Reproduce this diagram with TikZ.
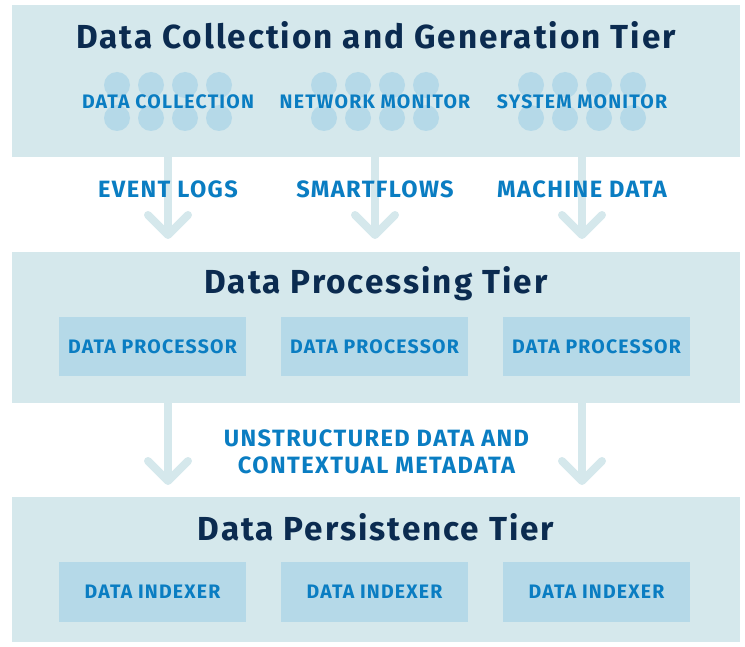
\documentclass[tikz,border=0pt]{standalone}
\usepackage{fontspec}
\setmainfont{Fira Sans}[LetterSpace=6]
\usetikzlibrary{calc}
\definecolor{panelbg}{HTML}{D5E8EC}
\definecolor{boxbg}{HTML}{B5D9E8}
\definecolor{lblue}{HTML}{0A7DC2}
\definecolor{navy}{HTML}{0B2B50}
\tikzset{
  tier/.style={fill=panelbg, draw=none, minimum width=728pt, inner sep=0pt},
  unit/.style={fill=boxbg, draw=none, minimum width=187pt, minimum height=59pt, inner sep=0pt,
    text=lblue, font=\bfseries\fontsize{19.5}{21}\selectfont},
  title/.style={text=navy, font=\bfseries\fontsize{33.3}{38}\selectfont, inner sep=0pt},
  lbl/.style={text=lblue, font=\bfseries\fontsize{19.5}{22}\selectfont, inner sep=0pt},
  flow/.style={text=lblue, font=\bfseries\fontsize{23.6}{27}\selectfont, inner sep=0pt, align=center},
  dot/.style={fill=boxbg, draw=none},
  arr/.style={draw=panelbg, line width=8pt},
  chev/.style={draw=panelbg, line width=8pt, line cap=round, line join=round}
}
\begin{document}
\begin{tikzpicture}[x=1pt,y=-1pt]
\useasboundingbox (0,0) rectangle (745,647);
% tiers
\node[tier, minimum height=152pt] (t1) at (376,81) {};
\node[tier, minimum height=151pt] (t2) at (376,327.5) {};
\node[tier, minimum height=145pt] (t3) at (376,569.5) {};
% dots
\foreach \cx in {117,151,185,219, 324,358,392,426, 531,565,599,633}{
  \foreach \cy in {85,118}{
    \fill[dot] (\cx,\cy) circle (13);
  }
}
% titles
\node[title] (h1) at (376,35) {Data Collection and Generation Tier};
\node[title] (h2) at (376,283.5) {Data Processing Tier};
\node[title] (h3) at (376,527.5) {Data Persistence Tier};
% tier 1 labels
\node[lbl] (s1) at (168,102) {DATA COLLECTION};
\node[lbl] (s2) at (375,102) {NETWORK MONITOR};
\node[lbl] (s3) at (582,102) {SYSTEM MONITOR};
% processors
\node[unit] (p1) at (152.5,346.5) {DATA PROCESSOR};
\node[unit] (p2) at (374.5,346.5) {DATA PROCESSOR};
\node[unit] (p3) at (596.5,346.5) {DATA PROCESSOR};
% indexers
\node[unit, minimum height=60pt] (i1) at (152.5,592) {DATA INDEXER};
\node[unit, minimum height=60pt] (i2) at (374.5,592) {DATA INDEXER};
\node[unit, minimum height=60pt] (i3) at (596.5,592) {DATA INDEXER};
% arrow tips
\coordinate (a1) at (168,235);
\coordinate (a2) at (375,235);
\coordinate (a3) at (582,235);
\coordinate (b1) at (168,481);
\coordinate (b2) at (582,481);
\foreach \a in {a1,a2,a3}{
  \draw[arr] (t1.south -| \a) -- (\a);
  \draw[chev] ($(\a)+(-20,-20)$) -- (\a) -- ($(\a)+(20,-20)$);
}
\foreach \a in {b1,b2}{
  \draw[arr] (t2.south -| \a) -- (\a);
  \draw[chev] ($(\a)+(-20,-20)$) -- (\a) -- ($(\a)+(20,-20)$);
}
% flow labels
\node[flow] (f1) at (168,189) {EVENT LOGS};
\node[flow] (f2) at (375,189) {SMARTFLOWS};
\node[flow] (f3) at (582,189) {MACHINE DATA};
\node[flow] (f4) at (376.5,451.5) {UNSTRUCTURED DATA AND\\CONTEXTUAL METADATA};
\end{tikzpicture}
\end{document}
